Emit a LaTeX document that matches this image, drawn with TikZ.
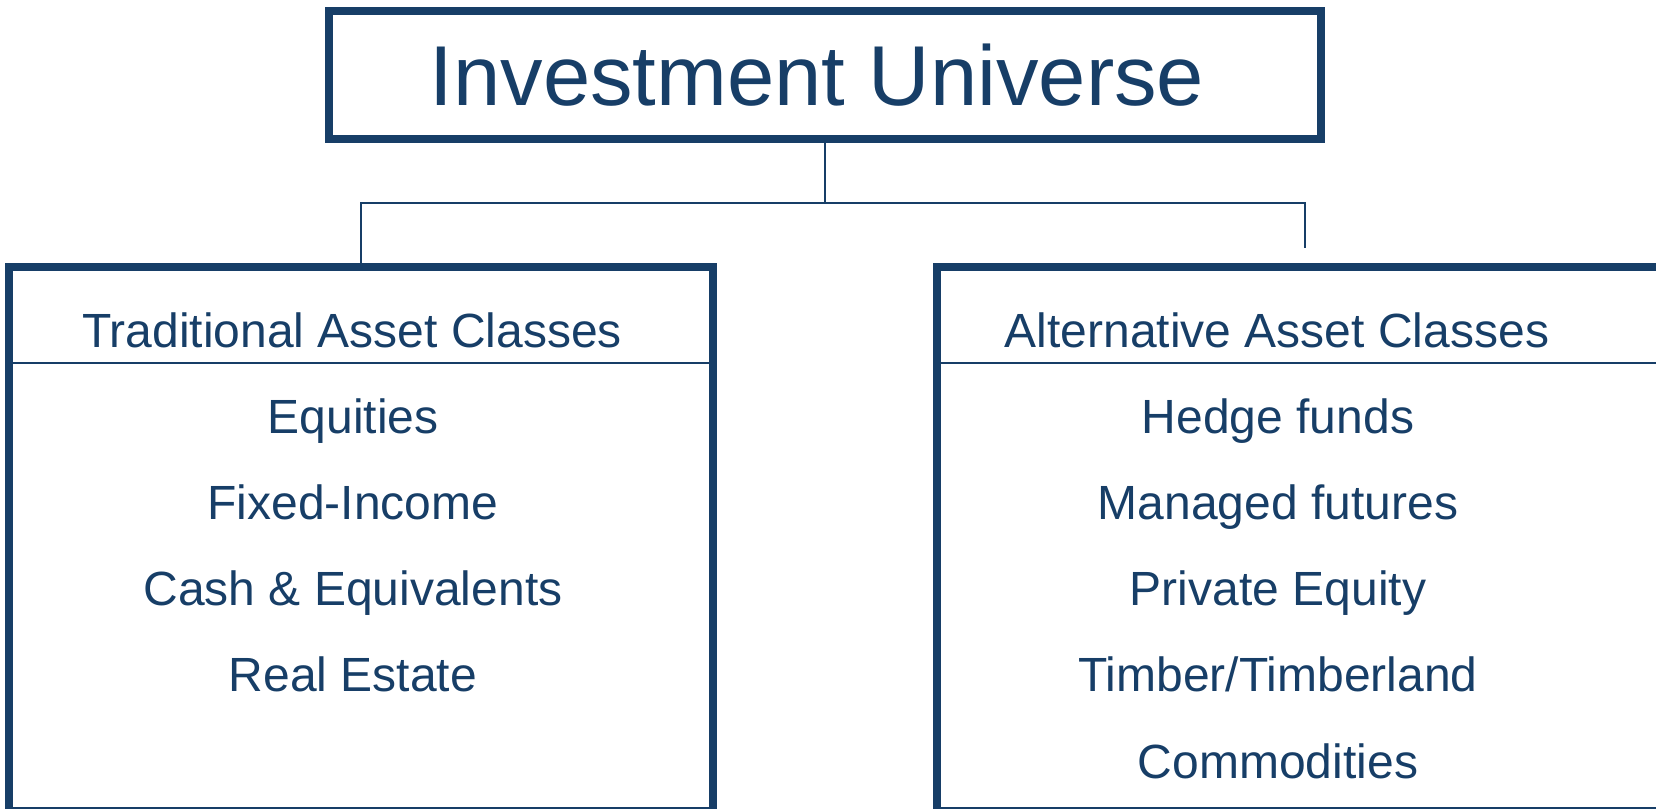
\documentclass[tikz,border=0pt]{standalone}
\usepackage{fontspec}
\setmainfont{Liberation Sans}
\usetikzlibrary{fit}
\definecolor{navy}{RGB}{23,62,103}
\tikzset{
  box/.style={draw=navy, line width=6pt, inner sep=0pt},
  link/.style={draw=navy, line width=1.2pt},
  divider/.style={draw=navy, line width=1.5pt},
  txt/.style={text=navy, anchor=base, inner sep=0pt, font=\fontsize{36pt}{40pt}\selectfont},
  headtxt/.style={txt, font=\fontsize{63.75pt}{70pt}\selectfont}
}
\begin{document}
\begin{tikzpicture}[x=0.75pt,y=0.75pt,yscale=-1]
\useasboundingbox (0,0) rectangle (1656,809);

%Shape: Rectangle
\node [box, fit={(329,11) (1321,139)}] (universe) {};
\node [box, fit={(9,267) (713,811)}] (trad) {};
\node [box, fit={(937,267) (1673,811)}] (alt) {};

%Straight Lines
\coordinate (fork) at (825,203);
\draw [link] (universe.south) -- (fork);
\draw [link, shorten >=11.25pt] (trad.north) |- (fork) -| (alt.north);

%Straight Lines
\coordinate (tradrule) at (9,363);
\coordinate (altrule) at (937,363);
\draw [divider] (tradrule) -- (tradrule -| trad.east);
\draw [divider] (altrule) -- (altrule -| alt.east);

% Text Node
\node [headtxt] (title) at (817,105.6) {Investment Universe};
\node [txt] (tradhead) at (352,347) {Traditional Asset Classes};
\node [txt] (althead) at (1277,347) {Alternative Asset Classes};

% Text Node
\foreach \name/\item [count=\i] in {equities/Equities, fixed/Fixed-Income, cash/{Cash \& Equivalents}, estate/Real Estate}
  \node [txt] (\name) at (353,433+86.3*\i-86.3) {\item};

% Text Node
\foreach \name/\item [count=\i] in {hedge/Hedge funds, futures/Managed futures, private/Private Equity, timber/{Timber/Timberland}, commod/Commodities}
  \node [txt] (\name) at (1278,433+86.3*\i-86.3) {\item};

\end{tikzpicture}
\end{document}
